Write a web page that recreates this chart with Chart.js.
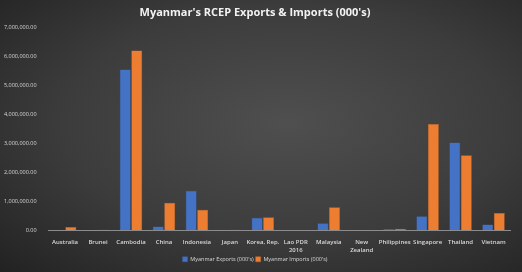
<!DOCTYPE html>
<html>
<head>
<meta charset="utf-8">
<script src="https://cdn.jsdelivr.net/npm/chart.js@4/dist/chart.umd.min.js"></script>
<style>
  html, body { margin: 0; padding: 0; }
  body {
    width: 522px; height: 272px; overflow: hidden;
    background: radial-gradient(ellipse at 55% 45%, #4f4f4f 0%, #3c3c3c 55%, #222222 100%);
  }
  canvas { display: block; }
</style>
</head>
<body>
<canvas id="myChart" width="522" height="272"></canvas>
<script>
// Categories and values (000's)
const countries = ['Australia', 'Brunei', 'Cambodia', 'China', 'Indonesia', 'Japan', 'Korea, Rep.',
    ['Lao PDR', '2016'], 'Malaysia', ['New', 'Zealand'], 'Philippines', 'Singapore', 'Thailand', 'Vietnam'];
const exportsData = [2000, 1000, 5540000, 120000, 1360000, 3000, 430000, 2000, 240000, 4000, 40000, 480000, 3020000, 190000];
const importsData = [110000, 10000, 6200000, 940000, 700000, 12000, 440000, 3000, 790000, 6000, 50000, 3660000, 2580000, 590000];
const yTicks = [0, 1000000, 2000000, 3000000, 4000000, 5000000, 6000000, 7000000];

const ctx = document.getElementById('myChart').getContext('2d');
new Chart(ctx, {
    type: 'bar',
    data: {
        labels: countries,
        datasets: [{
            label: "Myanmar Exports (000's)",
            data: exportsData,
            backgroundColor: '#4472C4',
            borderColor: '#3a62a8',
            borderWidth: 0.5
        }, {
            label: "Myanmar Imports (000's)",
            data: importsData,
            backgroundColor: '#ED7D31',
            borderColor: '#c9692a',
            borderWidth: 0.5
        }]
    },
    options: {
        responsive: false,
        animation: false,
        devicePixelRatio: 1,
        categoryPercentage: 0.7,
        barPercentage: 0.95,
        layout: { padding: { left: 0, right: 12, top: 4, bottom: 0 } },
        plugins: {
            title: {
                display: true,
                text: "Myanmar's RCEP Exports & Imports (000's)",
                color: '#f2f2f2',
                font: { family: 'Open Sans', size: 11, weight: 'bold' },
                padding: { top: 2, bottom: 8 }
            },
            legend: {
                position: 'bottom',
                labels: {
                    color: '#d9d9d9',
                    boxWidth: 5,
                    boxHeight: 5,
                    padding: 2,
                    font: { family: 'Open Sans', size: 5.5 }
                }
            },
            tooltip: { enabled: false }
        },
        scales: {
            x: {
                grid: { display: false },
                border: { color: '#8c8c8c' },
                ticks: {
                    color: '#d9d9d9',
                    maxRotation: 0,
                    autoSkip: false,
                    padding: 1,
                    font: { family: 'Open Sans', size: 6, weight: '600', lineHeight: 1.2 }
                }
            },
            y: {
                min: 0,
                max: 7000000,
                afterBuildTicks: axis => { axis.ticks = yTicks.map(v => ({ value: v })); },
                grid: { display: false },
                border: { display: false },
                ticks: {
                    color: '#d9d9d9',
                    padding: 4,
                    font: { family: 'Open Sans', size: 5.5 },
                    callback: v => v.toLocaleString('en-US', { minimumFractionDigits: 2, maximumFractionDigits: 2 })
                }
            }
        }
    }
});
</script>
</body>
</html>
